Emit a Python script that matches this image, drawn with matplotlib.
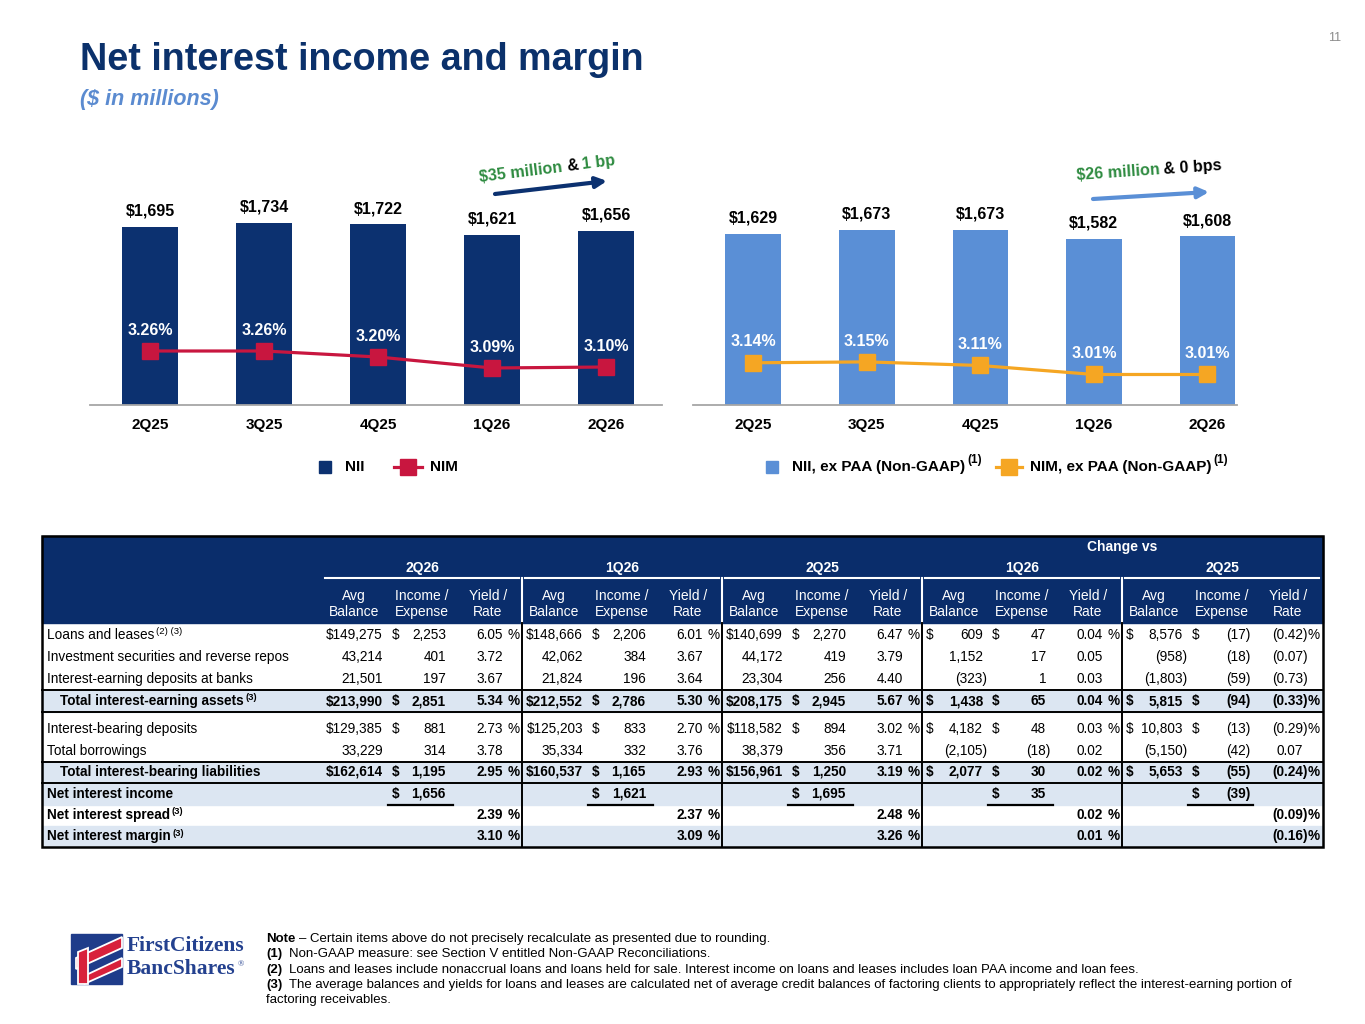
import numpy as np
import matplotlib
matplotlib.use("Agg")
import matplotlib.pyplot as plt
from matplotlib.patches import Rectangle, Polygon
from matplotlib.lines import Line2D

plt.rcParams["font.family"] = ["Liberation Sans", "DejaVu Sans"]

# ---- chart data ($ in millions, %)
quarters = ["2Q25", "3Q25", "4Q25", "1Q26", "2Q26"]
nii = [1695, 1734, 1722, 1621, 1656]
nim = [3.26, 3.26, 3.20, 3.09, 3.10]
nii_ex_paa = [1629, 1673, 1673, 1582, 1608]
nim_ex_paa = [3.14, 3.15, 3.11, 3.01, 3.01]

# ---- table data
row_labels = ["Loans and leases", "Investment securities and reverse repos",
              "Interest-earning deposits at banks", "Total interest-earning assets",
              "Interest-bearing deposits", "Total borrowings",
              "Total interest-bearing liabilities"]
row_notes = ["(2) (3)", "", "", "(3)", "", "", ""]
group_names = ["2Q26", "1Q26", "2Q25", "1Q26", "2Q25"]

avg_2q26 = [149275, 43214, 21501, 213990, 129385, 33229, 162614]
inc_2q26 = [2253, 401, 197, 2851, 881, 314, 1195]
yld_2q26 = [6.05, 3.72, 3.67, 5.34, 2.73, 3.78, 2.95]
avg_1q26 = [148666, 42062, 21824, 212552, 125203, 35334, 160537]
inc_1q26 = [2206, 384, 196, 2786, 833, 332, 1165]
yld_1q26 = [6.01, 3.67, 3.64, 5.30, 2.70, 3.76, 2.93]
avg_2q25 = [140699, 44172, 23304, 208175, 118582, 38379, 156961]
inc_2q25 = [2270, 419, 256, 2945, 894, 356, 1250]
yld_2q25 = [6.47, 3.79, 4.40, 5.67, 3.02, 3.71, 3.19]
avg_chg_1q26 = [609, 1152, -323, 1438, 4182, -2105, 2077]
inc_chg_1q26 = [47, 17, 1, 65, 48, -18, 30]
yld_chg_1q26 = [0.04, 0.05, 0.03, 0.04, 0.03, 0.02, 0.02]
avg_chg_2q25 = [8576, -958, -1803, 5815, 10803, -5150, 5653]
inc_chg_2q25 = [-17, -18, -59, -94, -13, -42, -55]
yld_chg_2q25 = [-0.42, -0.07, -0.73, -0.33, -0.29, 0.07, -0.24]

net_interest_income = [1656, 1621, 1695, 35, -39]
net_interest_spread = [2.39, 2.37, 2.48, 0.02, -0.09]
net_interest_margin = [3.10, 3.09, 3.26, 0.01, -0.16]

footnotes = [
    ("Note", " \u2013 Certain items above do not precisely recalculate as presented due to rounding."),
    ("(1)", "  Non-GAAP measure: see Section V entitled Non-GAAP Reconciliations."),
    ("(2)", "  Loans and leases include nonaccrual loans and loans held for sale. Interest income on loans and leases includes loan PAA income and loan fees."),
    ("(3)", "  The average balances and yields for loans and leases are calculated net of average credit balances of factoring clients to appropriately reflect the interest-earning portion of"),
    ("", "factoring receivables."),
]

NAVY = "#0C3170"
HEADER = "#0A2D6B"
LIGHT = "#5A8FD6"
RED = "#C8163F"
ORANGE = "#F5A623"
GREEN = "#2E8B40"
SHADE = "#DCE6F2"
W, H = 1365, 1024
FOOT = 9.5

fig = plt.figure(figsize=(W / 100, H / 100), dpi=100)
fig.patch.set_facecolor("white")

# overlay in pixel coordinates for slide text, table and decorations
ax0 = fig.add_axes([0, 0, 1, 1])
ax0.set_xlim(0, W)
ax0.set_ylim(H, 0)
ax0.axis("off")
R = fig.canvas.get_renderer()


def px_rect(l, t, r, b):
    return [l / W, 1 - b / H, (r - l) / W, (b - t) / H]


def width_px(s, **kw):
    t = ax0.text(0, 0, s, **kw)
    w = t.get_window_extent(renderer=R).width
    t.remove()
    return w


def seq(x, y, pieces, angle=0.0):
    th = np.radians(angle)
    for p in pieces:
        if isinstance(p, (int, float)):
            w = p
        else:
            s, kw = p
            ax0.text(x, y, s, rotation=angle, rotation_mode="anchor",
                     ha="left", va="baseline", **kw)
            w = width_px(s, **kw)
        x += w * np.cos(th)
        y -= w * np.sin(th)
    return x, y


def sup_after(t, s, dy, **kw):
    x1 = t.get_window_extent(renderer=R).x1
    ax0.text(x1 + 2, t.get_position()[1] + dy, s, ha="left", va="center", **kw)


# ---- title block
ax0.text(80, 60, "Net interest income and margin", fontsize=27.2, fontweight="bold",
         color="#0B316B", va="center")
ax0.text(80, 100, "($ in millions)", fontsize=15.5, fontweight="bold", style="italic",
         color="#5B8BD0", va="center")
ax0.text(1335, 38, "11", fontsize=9, color="#8C8C8C", ha="center", va="center")


# ---- charts
def bar_line(rect, bars_v, line_v, bar_col, line_col, xlim, ylim2):
    ax = fig.add_axes(px_rect(*rect))
    x = np.arange(len(quarters))
    b = ax.bar(x, bars_v, width=0.49, color=bar_col, zorder=2)
    ax.set_xlim(*xlim)
    ax.set_ylim(0, 2050)
    ax.bar_label(b, labels=[f"${v:,}" for v in bars_v], padding=6,
                 fontsize=11.5, fontweight="bold")
    ax.set_xticks(x, quarters, fontsize=11, fontweight="bold")
    ax.set_yticks([])
    ax.tick_params(axis="x", length=0, pad=9)
    for s in ["top", "left", "right"]:
        ax.spines[s].set_visible(False)
    ax.spines["bottom"].set_color("#A6A6A6")
    ax.spines["bottom"].set_linewidth(1.3)
    ax.patch.set_alpha(0)
    ax2 = ax.twinx()
    ax2.set_ylim(*ylim2)
    ax2.plot(x, line_v, color=line_col, lw=2.3, marker="s", ms=11, zorder=3)
    for i, v in enumerate(line_v):
        ax2.annotate(f"{v:.2f}%", (i, v), xytext=(0, 15), textcoords="offset points",
                     ha="center", va="center", color="white", fontsize=11.5,
                     fontweight="bold")
    ax2.axis("off")
    return ax


bar_line((90, 190, 662, 405), nii, nim, NAVY, RED, (-0.526, 4.49), (2.72, 4.87))
bar_line((693, 190, 1237, 405), nii_ex_paa, nim_ex_paa, LIGHT, ORANGE,
         (-0.53, 4.26), (2.671, 5.06))

# change arrows with annotations
ax0.annotate("", xy=(607, 181), xytext=(495, 194),
             arrowprops=dict(arrowstyle="-|>", lw=3, color=NAVY, mutation_scale=16,
                             shrinkA=0, shrinkB=0))
ax0.annotate("", xy=(1209, 192), xytext=(1093, 199),
             arrowprops=dict(arrowstyle="-|>", lw=3, color=LIGHT, mutation_scale=16,
                             shrinkA=0, shrinkB=0))
big = dict(fontsize=11.6, fontweight="bold")
seq(480, 182, [("$35 million", dict(color=GREEN, **big)), 4,
               ("&", dict(color="black", **big)), 4,
               ("1 bp", dict(color=GREEN, **big))], angle=7)
seq(1077, 180, [("$26 million", dict(color=GREEN, **big)), 4,
                ("& 0 bps", dict(color="black", **big))], angle=4)

# legends
leg = dict(fontsize=11, fontweight="bold", va="center")
ax0.add_patch(Rectangle((319, 461), 12, 12, color=NAVY))
ax0.text(345, 467, "NII", **leg)
ax0.add_line(Line2D([394, 422], [467, 467], color=RED, lw=2.3))
ax0.plot([408], [467], marker="s", ms=11, color=RED)
ax0.text(430, 467, "NIM", **leg)

ax0.add_patch(Rectangle((766, 461), 12, 12, color=LIGHT))
t = ax0.text(792, 467, "NII, ex PAA (Non-GAAP)", **leg)
sup_after(t, "(1)", -7, fontsize=8.5, fontweight="bold")
ax0.add_line(Line2D([996, 1022], [467, 467], color=ORANGE, lw=2.3))
ax0.plot([1009], [467], marker="s", ms=11, color=ORANGE)
t = ax0.text(1030, 467, "NIM, ex PAA (Non-GAAP)", **leg)
sup_after(t, "(1)", -7, fontsize=8.5, fontweight="bold")

# ---- table
TL, TR, TT, TB = 42, 1323, 536, 847
G = [322, 522, 722, 922, 1122]
row_y = [635, 657, 679, 701, 729, 751, 772]
y_nii, y_spread, y_margin = 794, 815, 836

ax0.add_patch(Rectangle((TL, TT), TR - TL, 623 - TT, color=HEADER, zorder=1))
for top, bot in [(690, 712), (762, 783), (783, 805), (826, 847)]:
    ax0.add_patch(Rectangle((TL, top), TR - TL, bot - top, color=SHADE, zorder=1))

hw = dict(color="white", fontsize=10, ha="center", va="center")
ax0.text(1122, 547, "Change vs", fontweight="bold", **hw)
for g, name in zip(G, group_names):
    ax0.text(g + 100, 568, name, fontweight="bold", **hw)
    ax0.add_line(Line2D([g + 3, g + 197], [578, 578], color="white", lw=1.5, zorder=2))
    for dx, l1, l2 in [(32, "Avg", "Balance"), (100, "Income /", "Expense"),
                       (166, "Yield /", "Rate")]:
        ax0.text(g + dx, 596, l1, **hw)
        ax0.text(g + dx, 612, l2, **hw)
for g in G[1:]:
    ax0.add_line(Line2D([g, g], [578, 623], color="white", lw=1.5, zorder=2))
    ax0.add_line(Line2D([g, g], [623, TB], color="black", lw=1.4, zorder=2))
for yl in [690, 712, 762, 783]:
    ax0.add_line(Line2D([TL, TR], [yl, yl], color="black", lw=1.4, zorder=2))
ax0.add_patch(Rectangle((TL, TT), TR - TL, TB - TT, fill=False, ec="black", lw=1.8,
                        zorder=3))


def fmt(v, dec=0):
    s = f"{abs(v):,.{dec}f}"
    return f"({s})" if v < 0 else s


def cell(x_edge, y, v, dec, **kw):
    s = fmt(v, dec)
    ax0.text(x_edge + (4.5 if v < 0 else 0), y, s, ha="right", va="center", **kw)


cols = [(avg_2q26, inc_2q26, yld_2q26), (avg_1q26, inc_1q26, yld_1q26),
        (avg_2q25, inc_2q25, yld_2q25), (avg_chg_1q26, inc_chg_1q26, yld_chg_1q26),
        (avg_chg_2q25, inc_chg_2q25, yld_chg_2q25)]
dollar_rows = [0, 3, 4, 6]
bold_rows = [3, 6]

for r, (lab, note) in enumerate(zip(row_labels, row_notes)):
    y = row_y[r]
    kw = dict(fontsize=9.8, fontweight="bold" if r in bold_rows else "normal")
    t = ax0.text(60 if r in bold_rows else 47, y, lab, va="center", **kw)
    if note:
        sup_after(t, note, -3, fontsize=6.8, fontweight=kw["fontweight"])
    for gi, (g, (avg, inc, yld)) in enumerate(zip(G, cols)):
        mark = r in dollar_rows
        if gi < 3:
            s = ("$" if mark else "") + fmt(avg[r])
            ax0.text(g + 61, y, s, ha="right", va="center", **kw)
        else:
            if mark:
                ax0.text(g + 4, y, "$", ha="left", va="center", **kw)
            cell(g + 61, y, avg[r], 0, **kw)
        if mark:
            ax0.text(g + 70, y, "$", ha="left", va="center", **kw)
        cell(g + 124, y, inc[r], 0, **kw)
        cell(g + 181, y, yld[r], 2, **kw)
        if mark:
            ax0.text(g + 186, y, "%", ha="left", va="center", **kw)

bk = dict(fontsize=9.8, fontweight="bold")
ax0.text(47, y_nii, "Net interest income", va="center", **bk)
t = ax0.text(47, y_spread, "Net interest spread", va="center", **bk)
sup_after(t, "(3)", -3, fontsize=6.8, fontweight="bold")
t = ax0.text(47, y_margin, "Net interest margin", va="center", **bk)
sup_after(t, "(3)", -3, fontsize=6.8, fontweight="bold")
for g, v_i, v_s, v_m in zip(G, net_interest_income, net_interest_spread,
                            net_interest_margin):
    ax0.text(g + 70, y_nii, "$", ha="left", va="center", **bk)
    cell(g + 124, y_nii, v_i, 0, **bk)
    ax0.add_line(Line2D([g + 66, g + 131], [805, 805], color="black", lw=1.6, zorder=2))
    cell(g + 181, y_spread, v_s, 2, **bk)
    cell(g + 181, y_margin, v_m, 2, **bk)
    ax0.text(g + 186, y_spread, "%", ha="left", va="center", **bk)
    ax0.text(g + 186, y_margin, "%", ha="left", va="center", **bk)

# ---- footnotes
fy = 942
for head, body in footnotes:
    pieces = []
    if head:
        gap = width_px("x" + body, fontsize=FOOT) - width_px("x" + body.lstrip(), fontsize=FOOT)
        pieces = [(head, dict(fontsize=FOOT, fontweight="bold")), gap,
                  (body.lstrip(), dict(fontsize=FOOT))]
    else:
        pieces = [(body, dict(fontsize=FOOT))]
    seq(266, fy, pieces)
    fy += 15.3

# ---- logo
ax0.add_patch(Rectangle((71, 934), 51, 50, color="#1F3C8A", zorder=1))
for poly in [[(76, 958), (122, 937), (122, 948), (76, 969)],
             [(84, 976), (122, 958), (122, 967), (84, 984)],
             [(78, 952), (88, 948), (88, 984), (78, 984)]]:
    ax0.add_patch(Polygon(poly, closed=True, fc="#D8213B", ec="white", lw=1.3, zorder=2))
logo = dict(family="Liberation Serif", fontsize=15.5, fontweight="bold",
            color="#24418F", va="center")
ax0.text(127, 946, "FirstCitizens", **logo)
t = ax0.text(127, 969, "BancShares", **logo)
sup_after(t, "\u00ae", -5, family="Liberation Serif", fontsize=6, color="#24418F")

fig.savefig("out.png", dpi=100)
